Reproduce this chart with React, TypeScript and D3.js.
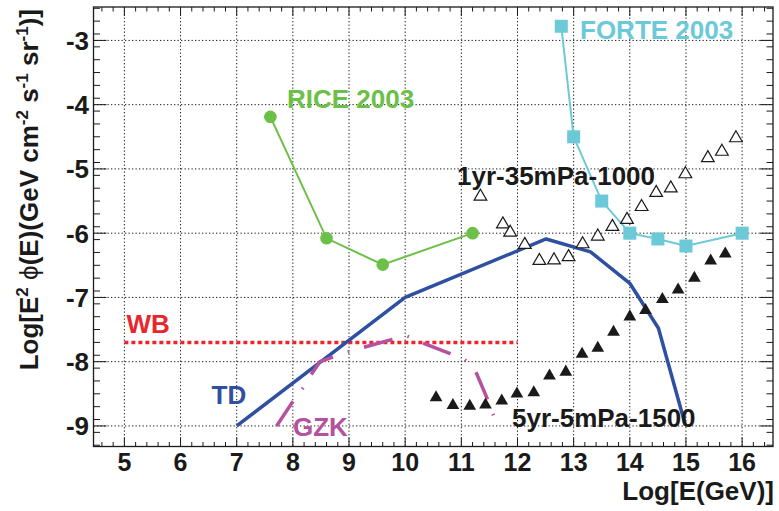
import React from 'react';
import * as d3 from 'd3';

// axis ranges (log10 units)
const xDomain = [4.45, 16.55];
const yDomain = [-9.32, -2.48];
const xTicks = [5, 6, 7, 8, 9, 10, 11, 12, 13, 14, 15, 16];
const yTicks = [-3, -4, -5, -6, -7, -8, -9];

// RICE 2003 limit
const riceX = [7.6, 8.6, 9.6, 11.2];
const riceY = [-4.19, -6.08, -6.49, -6.0];

// FORTE 2003 limit
const forteX = [12.78, 13.0, 13.5, 14.0, 14.5, 15.0, 16.0];
const forteY = [-2.78, -4.5, -5.5, -6.0, -6.09, -6.2, -6.0];

// 1yr-35mPa-1000 (open triangles)
const openX = [11.34, 11.74, 11.87, 12.13, 12.39, 12.65, 12.91, 13.16, 13.43, 13.69, 13.95, 14.21, 14.47, 14.73, 14.99, 15.39, 15.64, 15.89];
const openY = [-5.43, -5.86, -5.99, -6.18, -6.43, -6.42, -6.37, -6.17, -6.05, -5.9, -5.79, -5.59, -5.37, -5.3, -5.08, -4.83, -4.73, -4.52];

// 5yr-5mPa-1500 (filled triangles)
const filledX = [10.55, 10.85, 11.15, 11.43, 11.72, 11.99, 12.29, 12.57, 12.86, 13.15, 13.43, 13.71, 14.0, 14.28, 14.58, 14.86, 15.15, 15.44, 15.7];
const filledY = [-8.56, -8.68, -8.69, -8.67, -8.61, -8.5, -8.48, -8.22, -8.16, -7.88, -7.79, -7.54, -7.3, -7.2, -7.03, -6.88, -6.7, -6.43, -6.32];

// TD model
const tdX = [7.0, 10.0, 12.51, 13.3, 14.0, 14.51, 14.99];
const tdY = [-9.0, -7.0, -6.09, -6.29, -6.78, -7.48, -8.99];

// GZK model
const gzkX = [7.71, 8.0, 8.17, 8.32, 8.48, 8.71, 8.97, 9.25, 9.74, 10.03, 10.29, 10.79, 11.05, 11.24, 11.45, 11.54, 11.66];
const gzkY = [-9.0, -8.62, -8.42, -8.21, -8.0, -7.93, -7.85, -7.78, -7.66, -7.6, -7.7, -7.87, -7.96, -8.12, -8.55, -8.77, -9.01];

// WB bound
const wbX = [5, 12];
const wbY = [-7.7, -7.7];

const FONT = '"Liberation Sans", Arial, Helvetica, sans-serif';
const C_RICE = '#6cbf47';
const C_FORTE = '#6ccad8';
const C_TD = '#2f4fa0';
const C_GZK = '#b5519e';
const C_WB = '#e8262c';
const INK = '#1a1a1a';

const zip = (xs: number[], ys: number[]) => xs.map((x, i) => [x, ys[i]] as [number, number]);

export default function App() {
  const W = 779;
  const H = 511;
  const L = 93.5, R = 773, T = 7, B = 446.5;

  const x = d3.scaleLinear().domain(xDomain).range([L, R]);
  const y = d3.scaleLinear().domain(yDomain).range([B, T]);
  const line = d3.line<[number, number]>().x(d => x(d[0])).y(d => y(d[1]));

  const xMinor = d3.range(46, 166, 2).map(v => v / 10).filter(v => Math.abs(v - Math.round(v)) > 0.01);
  const yMinor = d3.range(-93, -24, 2).map(v => v / 10).filter(v => Math.abs(v - Math.round(v)) > 0.01);

  const tri = d3.symbol().type(d3.symbolTriangle).size(70)() || '';
  const sq = d3.symbol().type(d3.symbolSquare).size(170)() || '';
  const circ = d3.symbol().type(d3.symbolCircle).size(125)() || '';

  const textStyle = { fontFamily: FONT, fontWeight: 700, fontSize: 26 } as const;
  const tickStyle = { fontFamily: FONT, fontWeight: 700, fontSize: 25 } as const;

  return (
    <svg width={W} height={H} style={{ position: 'absolute', left: 0, top: 0, background: '#fff' }}>
      <rect x={0} y={0} width={W} height={H} fill="#fff" />

      {/* grid */}
      {xTicks.map(t => (
        <line key={'gx' + t} x1={x(t)} x2={x(t)} y1={T} y2={B} stroke={INK} strokeWidth={1} strokeDasharray="1.3 2.2" />
      ))}
      {yTicks.map(t => (
        <line key={'gy' + t} x1={L} x2={R} y1={y(t)} y2={y(t)} stroke={INK} strokeWidth={1} strokeDasharray="1.3 2.2" />
      ))}

      {/* ticks on all four sides */}
      <g stroke={INK} strokeWidth={1}>
        {xTicks.map(t => (
          <g key={'tx' + t}>
            <line x1={x(t)} x2={x(t)} y1={B} y2={B - 9} />
            <line x1={x(t)} x2={x(t)} y1={T} y2={T + 9} />
          </g>
        ))}
        {xMinor.map(t => (
          <g key={'mx' + t}>
            <line x1={x(t)} x2={x(t)} y1={B} y2={B - 4.5} />
            <line x1={x(t)} x2={x(t)} y1={T} y2={T + 4.5} />
          </g>
        ))}
        {yTicks.map(t => (
          <g key={'ty' + t}>
            <line x1={L} x2={L + 13} y1={y(t)} y2={y(t)} />
            <line x1={R} x2={R - 13} y1={y(t)} y2={y(t)} />
          </g>
        ))}
        {yMinor.map(t => (
          <g key={'my' + t}>
            <line x1={L} x2={L + 6.5} y1={y(t)} y2={y(t)} />
            <line x1={R} x2={R - 6.5} y1={y(t)} y2={y(t)} />
          </g>
        ))}
      </g>
      <rect x={L} y={T} width={R - L} height={B - T} fill="none" stroke={INK} strokeWidth={1.3} />

      {/* tick labels */}
      {xTicks.map(t => (
        <text key={'lx' + t} x={x(t)} y={471} textAnchor="middle" fill={INK} style={tickStyle}>{t}</text>
      ))}
      {yTicks.map(t => (
        <text key={'ly' + t} x={89} y={y(t) + 9.5} textAnchor="end" fill={INK} style={textStyle}>{t}</text>
      ))}

      {/* axis titles */}
      <text x={R + 1} y={500} textAnchor="end" fill={INK} style={textStyle}>Log[E(GeV)]</text>
      <text transform={`translate(37.5, 9) rotate(-90)`} textAnchor="end" fill={INK} style={textStyle}>
        Log[E<tspan fontSize={17} dy={-10}>2</tspan>
        <tspan dy={10}> </tspan>
        <tspan fontWeight={400}>ϕ</tspan>(E)(GeV cm<tspan fontSize={17} dy={-10}>-2</tspan>
        <tspan dy={10}> s</tspan><tspan fontSize={17} dy={-10}>-1</tspan>
        <tspan dy={10}> sr</tspan><tspan fontSize={17} dy={-10}>-1</tspan>
        <tspan dy={10}>)]</tspan>
      </text>

      {/* WB */}
      <path d={line(zip(wbX, wbY)) || ''} fill="none" stroke={C_WB} strokeWidth={3.5} strokeDasharray="4 3" />

      {/* TD */}
      <path d={line(zip(tdX, tdY)) || ''} fill="none" stroke={C_TD} strokeWidth={3.5} strokeLinejoin="round" />

      {/* GZK */}
      <path d={line(zip(gzkX, gzkY)) || ''} fill="none" stroke={C_GZK} strokeWidth={3.5} strokeDasharray="29.5 15.5 1.5 15.5" />

      {/* RICE */}
      <path d={line(zip(riceX, riceY)) || ''} fill="none" stroke={C_RICE} strokeWidth={2} />
      {riceX.map((v, i) => (
        <path key={'r' + i} d={circ} transform={`translate(${x(v)},${y(riceY[i])})`} fill={C_RICE} />
      ))}

      {/* FORTE */}
      <path d={line(zip(forteX, forteY)) || ''} fill="none" stroke={C_FORTE} strokeWidth={2} />
      {forteX.map((v, i) => (
        <path key={'f' + i} d={sq} transform={`translate(${x(v)},${y(forteY[i])})`} fill={C_FORTE} />
      ))}

      {/* 1yr-35mPa-1000 */}
      {openX.map((v, i) => (
        <path key={'o' + i} d={tri} transform={`translate(${x(v)},${y(openY[i])})`} fill="#fff" stroke={INK} strokeWidth={1.2} />
      ))}

      {/* 5yr-5mPa-1500 */}
      {filledX.map((v, i) => (
        <path key={'b' + i} d={tri} transform={`translate(${x(v)},${y(filledY[i])})`} fill={INK} />
      ))}

      {/* labels */}
      <text x={580} y={38.5} fill={C_FORTE} style={textStyle}>FORTE 2003</text>
      <text x={287} y={108} fill={C_RICE} style={textStyle}>RICE 2003</text>
      <text x={457} y={185} fill={INK} style={textStyle}>1yr-35mPa-1000</text>
      <text x={512} y={427} fill={INK} style={textStyle}>5yr-5mPa-1500</text>
      <text x={126.5} y={333} fill={C_WB} style={textStyle}>WB</text>
      <text x={211.5} y={404} fill={C_TD} style={textStyle}>TD</text>
      <text x={293} y={436} fill={C_GZK} style={textStyle}>GZK</text>
    </svg>
  );
}
